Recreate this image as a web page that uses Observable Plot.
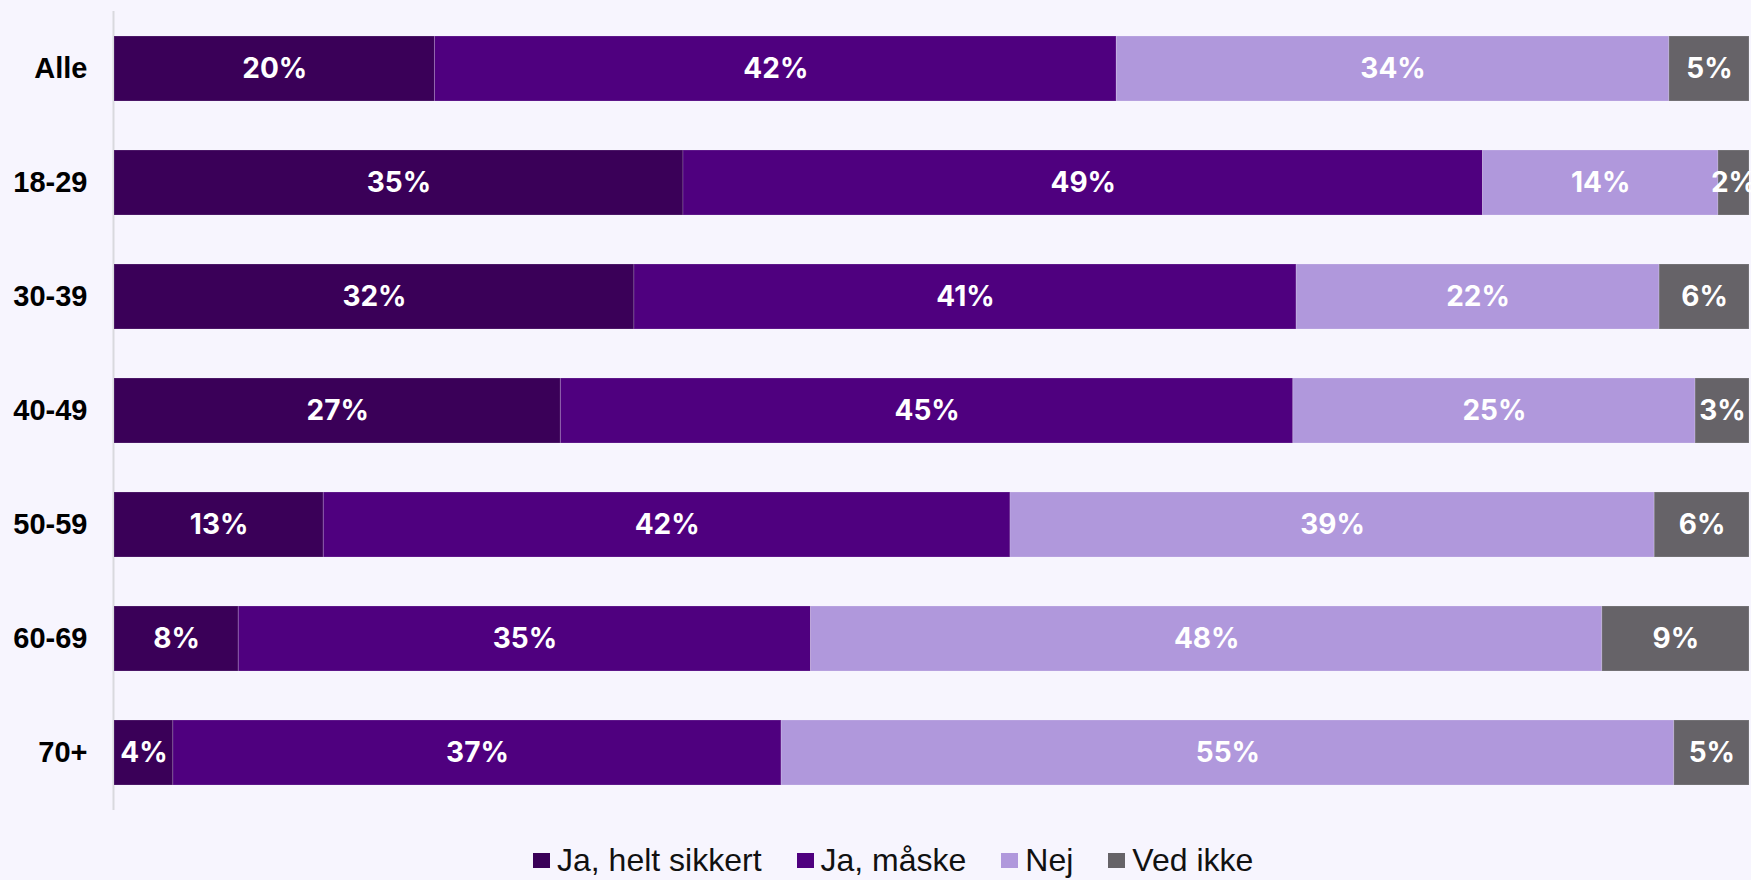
<!DOCTYPE html>
<html>
<head>
<meta charset="utf-8">
<script src="https://cdn.jsdelivr.net/npm/d3@7"></script>
<script src="https://cdn.jsdelivr.net/npm/@observablehq/plot@0.6"></script>
<style>
  html, body { margin: 0; padding: 0; background: #f7f5fe; }
  #wrap { position: relative; width: 1751px; height: 880px; background: #f7f5fe; overflow: hidden; }
  #legend { position: absolute; left: 533px; top: 842px; height: 36px; display: flex; align-items: center;
    font-family: "Liberation Sans", Arial, sans-serif; font-size: 32px; color: #111; white-space: nowrap; }
  .item { display: flex; align-items: center; margin-right: 35px; }
  .sw { width: 17px; height: 15px; margin-right: 7px; }
</style>
</head>
<body>
<div id="wrap">
  <div id="chart"></div>
  <div id="legend"></div>
</div>
<script>
const categories = ["Alle", "18-29", "30-39", "40-49", "50-59", "60-69", "70+"];
const seriesNames = ["Ja, helt sikkert", "Ja, måske", "Nej", "Ved ikke"];
const seriesColors = ["#3a0058", "#4f007f", "#b098dc", "#666368"];
const jaHeltSikkert = [19.6, 34.8, 31.8, 27.3, 12.8, 7.6, 3.6];
const jaMaaske      = [41.7, 48.9, 40.5, 44.8, 42.0, 35.0, 37.2];
const nej           = [33.8, 14.4, 22.2, 24.6, 39.4, 48.4, 54.6];
const vedIkke       = [4.9, 1.9, 5.5, 3.3, 5.8, 9.0, 4.6];

const seriesValues = [jaHeltSikkert, jaMaaske, nej, vedIkke];
const data = [];
categories.forEach((c, i) => {
  seriesNames.forEach((s, j) => {
    data.push({cat: c, series: s, value: seriesValues[j][i]});
  });
});

const chart = Plot.plot({
  width: 1751,
  height: 830,
  marginTop: 11,
  marginBottom: 20,
  marginLeft: 114,
  marginRight: 2,
  style: {background: "#f7f5fe", overflow: "visible"},
  x: {domain: [0, 100], axis: null},
  y: {domain: categories, paddingInner: 0.43, paddingOuter: 0.21, label: null},
  color: {domain: seriesNames, range: seriesColors},
  marks: [
    Plot.ruleX([0], {stroke: "#d9d9de", strokeWidth: 2, dx: -1}),
    Plot.barX(data, Plot.stackX({x: "value", y: "cat", fill: "series", z: "series",
      stroke: "#ffffff", strokeOpacity: 0.18, strokeWidth: 1})),
    Plot.text(data, Plot.stackX({x: "value", y: "cat", z: "series",
      text: d => Math.round(d.value) + "%",
      fill: "white", fontSize: 28, fontWeight: 700, fontFamily: "Inter, Lato, sans-serif"})),
    Plot.axisY({tickSize: 0, tickPadding: 27, fontSize: 29, fontWeight: "bold",
      fontFamily: "Liberation Sans, Arial, sans-serif", fill: "#000", label: null})
  ]
});
document.getElementById("chart").appendChild(chart);

const legend = document.getElementById("legend");
seriesNames.forEach((s, i) => {
  const item = document.createElement("div");
  item.className = "item";
  if (i === seriesNames.length - 1) item.style.marginRight = "0";
  const sw = document.createElement("div");
  sw.className = "sw";
  sw.style.background = seriesColors[i];
  const tx = document.createElement("span");
  tx.textContent = s;
  item.appendChild(sw);
  item.appendChild(tx);
  legend.appendChild(item);
});
</script>
</body>
</html>
